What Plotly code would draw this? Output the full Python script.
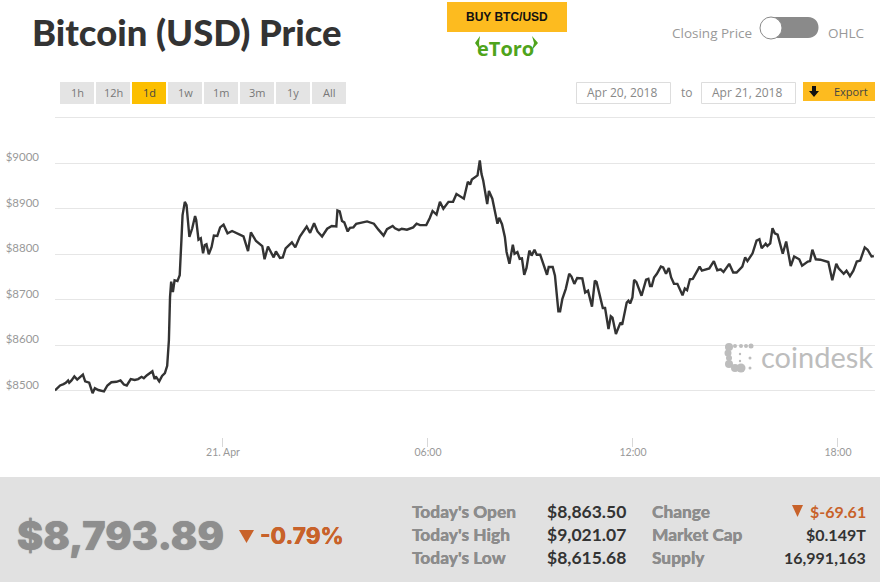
import pandas as pd
import plotly.graph_objects as go

W, H = 880, 582

start_time = pd.Timestamp("2018-04-20 19:05")

# minutes after start_time
minutes = [
    0, 4, 9, 15, 19, 23, 25, 29, 34, 39, 49, 53, 60, 66, 70, 76, 86, 92, 99, 108,
    115, 121, 126, 133, 140, 146, 152, 156, 161, 171, 175, 177, 183, 188, 193, 197, 200, 202, 204, 207,
    210, 215, 219, 222, 224, 228, 231, 236, 241, 246, 248, 252, 256, 260, 263, 266, 270, 275, 279, 285,
    290, 296, 303, 311, 319, 331, 339, 344, 353, 364, 368, 374, 384, 388, 395, 400, 405, 416, 422, 430,
    442, 448, 455, 461, 469, 478, 486, 494, 496, 500, 504, 508, 514, 518, 524, 529, 548, 560, 568, 577,
    583, 593, 597, 604, 609, 618, 629, 635, 641, 652, 658, 663, 670, 676, 682, 691, 699, 705, 718, 725,
    729, 732, 742, 746, 749, 752, 759, 762, 768, 773, 777, 780, 785, 790, 793, 798, 804, 807, 812, 816,
    820, 824, 828, 833, 837, 842, 846, 852, 860, 864, 867, 874, 878, 884, 887, 891, 897, 903, 907, 912,
    917, 926, 931, 936, 943, 948, 951, 957, 962, 966, 972, 976, 979, 985, 993, 996, 1004, 1007, 1010, 1014,
    1017, 1021, 1030, 1038, 1042, 1045, 1048, 1052, 1057, 1064, 1068, 1073, 1078, 1082, 1087, 1093, 1102, 1106, 1110, 1115,
    1120, 1132, 1136, 1149, 1157, 1163, 1169, 1174, 1184, 1191, 1197, 1207, 1212, 1216, 1225, 1232, 1237, 1241, 1248, 1251,
    1256, 1260, 1264, 1269, 1278, 1284, 1292, 1298, 1307, 1312, 1322, 1326, 1330, 1336, 1344, 1358, 1365, 1372, 1376, 1385,
    1390, 1396, 1402, 1408, 1414, 1422, 1427, 1434, 1438,
]
prices = [
    8501, 8505, 8512, 8515, 8518, 8523, 8518, 8523, 8532, 8525, 8536, 8521, 8518, 8495, 8506, 8502, 8499, 8512, 8519, 8520,
    8523, 8514, 8512, 8526, 8524, 8526, 8531, 8528, 8534, 8543, 8526, 8532, 8521, 8533, 8539, 8555, 8611, 8706, 8740, 8717,
    8743, 8741, 8754, 8831, 8886, 8915, 8908, 8838, 8857, 8884, 8875, 8832, 8835, 8802, 8820, 8822, 8800, 8816, 8841, 8840,
    8859, 8865, 8846, 8851, 8846, 8839, 8807, 8848, 8829, 8818, 8789, 8817, 8793, 8806, 8792, 8793, 8813, 8826, 8815, 8839,
    8861, 8847, 8868, 8850, 8839, 8856, 8862, 8861, 8896, 8894, 8873, 8870, 8850, 8858, 8859, 8867, 8872, 8867, 8854, 8841,
    8855, 8862, 8857, 8853, 8856, 8854, 8859, 8867, 8864, 8864, 8879, 8895, 8887, 8915, 8900, 8915, 8915, 8932, 8922, 8959,
    8953, 8964, 8973, 9006, 8976, 8962, 8910, 8939, 8922, 8889, 8867, 8880, 8866, 8838, 8805, 8779, 8821, 8801, 8805, 8790,
    8791, 8755, 8770, 8808, 8797, 8810, 8799, 8799, 8772, 8755, 8772, 8772, 8753, 8675, 8675, 8702, 8724, 8757, 8751, 8735,
    8748, 8747, 8716, 8720, 8685, 8742, 8739, 8705, 8682, 8682, 8636, 8664, 8661, 8625, 8650, 8645, 8694, 8698, 8692, 8705,
    8744, 8739, 8709, 8744, 8746, 8730, 8730, 8749, 8757, 8773, 8771, 8757, 8770, 8749, 8735, 8735, 8710, 8725, 8721, 8745,
    8746, 8773, 8764, 8769, 8785, 8765, 8767, 8761, 8779, 8760, 8760, 8773, 8793, 8785, 8802, 8830, 8833, 8813, 8823, 8818,
    8824, 8857, 8846, 8843, 8801, 8828, 8774, 8795, 8789, 8775, 8784, 8785, 8810, 8789, 8788, 8783, 8743, 8779, 8769, 8757,
    8764, 8752, 8764, 8784, 8786, 8815, 8810, 8795, 8796,
]

y_ticks = [8500, 8600, 8700, 8800, 8900, 9000, 9100]
y_labels = ["$8500", "$8600", "$8700", "$8800", "$8900", "$9000", ""]
x_ticks = ["2018-04-21 00:00", "2018-04-21 06:00", "2018-04-21 12:00", "2018-04-21 18:00"]
x_labels = ["21. Apr", "06:00", "12:00", "18:00"]

range_buttons = ["1h", "12h", "1d", "1w", "1m", "3m", "1y", "All"]
active_button = "1d"

stat_labels_left = ["Today's Open", "Today's High", "Today's Low"]
stat_values_left = ["$8,863.50", "$9,021.07", "$8,615.68"]
stat_labels_right = ["Change", "Market Cap", "Supply"]
stat_values_right = ["$-69.61", "$0.149T", "16,991,163"]

YELLOW = "#fdbb1f"
ORANGE = "#c8622a"
GREY_TEXT = "#8c8c8c"
DARK = "#333333"


def px(x):
    return x / W


def py(y):
    return 1 - y / H


def rect(x0, y0, x1, y1, fill, line=None):
    return dict(
        type="rect", xref="paper", yref="paper", layer="below",
        x0=px(x0), x1=px(x1), y0=py(y0), y1=py(y1),
        fillcolor=fill, line=dict(color=line or fill, width=1 if line else 0),
    )


def circle(cx, cy, r, fill, line=None):
    return dict(
        type="circle", xref="paper", yref="paper", layer="above",
        x0=px(cx - r), x1=px(cx + r), y0=py(cy + r), y1=py(cy - r),
        fillcolor=fill, line=dict(color=line or fill, width=1 if line else 0),
    )


def poly(points, fill):
    path = "M " + " L ".join(f"{px(x)} {py(y)}" for x, y in points) + " Z"
    return dict(type="path", xref="paper", yref="paper", path=path,
                fillcolor=fill, line=dict(width=0), layer="above")


def label(text, x, y, size, color, anchor="left", family="Lato", weight=400, shadow=None):
    font = dict(size=size, color=color, family=family, weight=weight)
    if shadow:
        # thin same-colour halo, the installed bolds are lighter than the original face
        font["shadow"] = f"0 0 {shadow}px {color}"
    return dict(
        text=text, x=px(x), y=py(y), xref="paper", yref="paper",
        xanchor=anchor, yanchor="middle", showarrow=False,
        borderpad=0, borderwidth=0,
        font=font,
    )


shapes = [rect(0, 477, W, H, "#e1e1e1")]
annotations = [label("Bitcoin (USD) Price", 32, 32, 36.4, DARK, weight=900)]

# range selector
for i, name in enumerate(range_buttons):
    x0 = 60 + 36 * i
    on = name == active_button
    shapes.append(rect(x0, 82, x0 + 34, 104, "#fcbf00" if on else "#e4e4e4"))
    annotations.append(label(name, x0 + 17, 92.5, 11, "#444444" if on else "#777777", "center", "Open Sans"))

# buy button and logo
shapes.append(rect(447, 2, 567, 32, YELLOW))
annotations.append(label("BUY BTC/USD", 507, 17, 12, "#111111", "center", "Liberation Sans", 700))
annotations.append(label("eToro", 506, 48, 20, "#4fa41c", "center", "Open Sans", 700))
shapes.append(poly([(480, 36), (475, 43), (480, 50), (479, 43)], "#4fa41c"))
shapes.append(poly([(532, 36), (538, 43), (532, 50), (534, 43)], "#4fa41c"))

# closing price / ohlc toggle
shapes.append(dict(type="path", xref="paper", yref="paper", layer="above", fillcolor="#8a8a8a", line=dict(width=0),
                   path=f"M {px(771)} {py(17)} L {px(808)} {py(17)} "
                        f"C {px(822)} {py(17)} {px(822)} {py(38)} {px(808)} {py(38)} "
                        f"L {px(771)} {py(38)} Z"))
shapes.append(circle(771, 28, 11, "#ffffff", "#8a8a8a"))
annotations.append(label("Closing Price", 752, 33, 13.5, "#999999", "right", "Open Sans"))
annotations.append(label("OHLC", 828, 33, 13.5, "#999999", "left", "Open Sans"))

# date boxes and export
shapes.append(rect(576.5, 82.5, 670.5, 103.5, "#ffffff", "#dddddd"))
shapes.append(rect(701.5, 82.5, 795.5, 103.5, "#ffffff", "#dddddd"))
annotations.append(label("Apr 20, 2018", 622, 92, 12, "#888888", "center", "Open Sans"))
annotations.append(label("to", 687, 92, 12, "#888888", "center", "Open Sans"))
annotations.append(label("Apr 21, 2018", 747, 92, 12, "#888888", "center", "Open Sans"))
shapes.append(rect(803, 82, 875, 101, YELLOW))
annotations.append(label("Export", 851, 91, 11, "#444444", "center", "Open Sans"))
shapes.append(poly([(812, 86), (816, 86), (816, 91), (819, 91), (814, 97), (809, 91), (812, 91)], "#111111"))

# coindesk watermark
annotations.append(label("coindesk", 761, 356, 29, "#bdbdbd", "left", "Lato"))
for cx, cy, r in [(729, 347, 4), (735, 346, 2), (741, 346, 2), (746, 346, 2), (751, 346, 2.5),
                  (728, 353, 3.5), (729, 358, 3), (729, 364, 4), (735, 368, 4), (741, 368, 4.5),
                  (750, 368, 1.5), (750, 358, 1.5), (740, 354, 1.2), (740, 361, 1.2)]:
    shapes.append(circle(cx, cy, r, "#bdbdbd"))

# price block
annotations.append(label("$8,793.89", 17, 535, 39.3, "#8e8e8e", "left", "Inter", 900, shadow=1))
shapes.append(poly([(239, 530), (254, 530), (246.5, 543)], ORANGE))
annotations.append(label("-0.79%", 260, 535, 22.5, ORANGE, "left", "Inter", 800, shadow=0.6))

for i, row_y in enumerate([511.5, 534.5, 557.5]):
    annotations.append(label(stat_labels_left[i], 412, row_y, 17.3, GREY_TEXT, "left", "Lato", 900, shadow=0.5))
    annotations.append(label(stat_values_left[i], 626, row_y, 17.5, DARK, "right", "Lato", 700))
    annotations.append(label(stat_labels_right[i], 652, row_y, 17.3, GREY_TEXT, "left", "Lato", 900, shadow=0.5))
    color = ORANGE if i == 0 else DARK
    annotations.append(label(stat_values_right[i], 866, row_y, 16, color, "right", "Lato", 700))
shapes.append(poly([(792, 505), (803, 505), (797.5, 517)], ORANGE))

times = [start_time + pd.Timedelta(minutes=m) for m in minutes]

fig = go.Figure()
fig.add_trace(go.Scatter(
    x=times, y=prices, mode="lines",
    line=dict(color="#333333", width=2.4),
    showlegend=False,
))

fig.update_layout(
    width=W, height=H,
    autosize=False,
    margin=dict(l=0, r=0, t=0, b=0),
    paper_bgcolor="#ffffff",
    plot_bgcolor="#ffffff",
    shapes=shapes,
    annotations=annotations,
    xaxis=dict(
        domain=[px(55), px(875)],
        range=[start_time, start_time + pd.Timedelta(minutes=1440)],
        tickmode="array", tickvals=x_ticks, ticktext=x_labels,
        ticks="outside", ticklen=9, tickwidth=1, tickcolor="#d8d8d8",
        ticklabelstandoff=-3,
        tickfont=dict(size=10.5, color="#999999", family="Lato"),
        showgrid=False, zeroline=False, showline=False,
    ),
    yaxis=dict(
        # a little headroom above 9100 so its gridline is not dropped at the edge
        domain=[py(436.5), py(113)],
        range=[8400, 9110],
        tickmode="array", tickvals=y_ticks, ticktext=y_labels,
        ticks="", ticklabelstandoff=15, ticklabelshift=-6,
        tickfont=dict(size=11.5, color="#999999", family="Lato"),
        showgrid=True, gridcolor="#e6e6e6", gridwidth=1,
        zeroline=False, showline=False,
    ),
)

fig.write_html("out.html", post_script="document.body.style.margin = '0';", config={"displayModeBar": False})
